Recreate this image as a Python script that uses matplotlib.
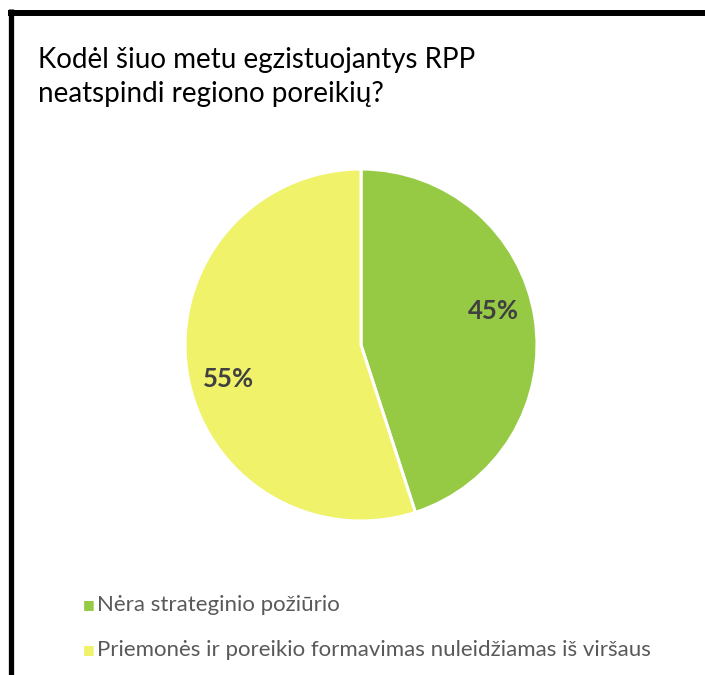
import numpy as np
import matplotlib.pyplot as plt
from matplotlib.lines import Line2D

plt.rcParams['font.family'] = ['Lato', 'DejaVu Sans']

# duomenys
kategorijos = ['Nėra strateginio požiūrio',
               'Priemonės ir poreikio formavimas nuleidžiamas iš viršaus']
reiksmes = [45, 55]
spalvos = ['#96CA45', '#F0F26A']
pavadinimas = 'Kodėl šiuo metu egzistuojantys RPP\nneatspindi regiono poreikių?'

W, H = 705, 675
fig = plt.figure(figsize=(W / 100, H / 100), dpi=100)
fig.patch.set_facecolor('white')

# remelis (kairys ir virsutinis kraštai)
fig.add_artist(Line2D([10.5 / W, 10.5 / W], [0, 1 - 9 / H], color='black',
                      linewidth=3.8, solid_capstyle='butt'))
fig.add_artist(Line2D([8 / W, 1], [1 - 12.5 / H, 1 - 12.5 / H], color='black',
                      linewidth=4.3, solid_capstyle='butt'))

fig.text(38 / W, 1 - 47 / H, pavadinimas, fontsize=20, color='black',
         va='top', ha='left', linespacing=1.38)

cx, cy, r = 361, 345, 176
ax = fig.add_axes([(cx - r) / W, (H - cy - r) / H, 2 * r / W, 2 * r / H])
wedges, texts, autotexts = ax.pie(
    reiksmes, colors=spalvos, startangle=90, counterclock=False,
    autopct='%1.0f%%', pctdistance=0.775, radius=1,
    wedgeprops=dict(edgecolor='white', linewidth=2.2))
# etiketes pasuktos truputi pries laikrodzio rodykle
rot = np.deg2rad(5.5)
for t in autotexts:
    x, y = t.get_position()
    t.set_position((x * np.cos(rot) - y * np.sin(rot),
                    x * np.sin(rot) + y * np.cos(rot)))
    t.set_fontsize(18.5)
    t.set_fontweight('bold')
    t.set_color('#404040')
ax.set_xlim(-1, 1)
ax.set_ylim(-1, 1)
ax.set_aspect('equal')
ax.axis('off')

# legenda
legend_y = [605, 650]
for lbl, col, y in zip(kategorijos, spalvos, legend_y):
    fig.text(83 / W, 1 - y / H, '■', color=col, fontsize=9,
             va='center', ha='left', family='DejaVu Sans')
    fig.text(97 / W, 1 - y / H, lbl, color='#595959', fontsize=16,
             va='center', ha='left')

fig.savefig('out.png', dpi=100)
